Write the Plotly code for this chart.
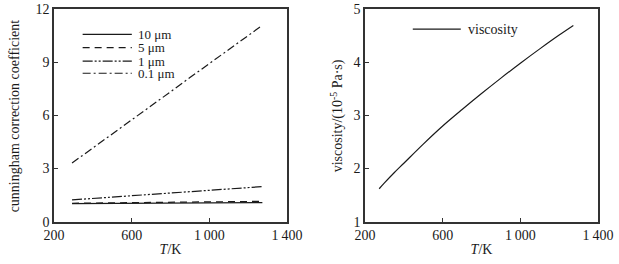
import plotly.graph_objects as go

# ---- data ----
T_cc = [293, 400, 500, 600, 700, 800, 900, 1000, 1100, 1200, 1273]
cc_10um = [1.02, 1.025, 1.03, 1.035, 1.04, 1.045, 1.05, 1.06, 1.065, 1.07, 1.08]
cc_5um = [1.04, 1.05, 1.06, 1.07, 1.08, 1.09, 1.10, 1.115, 1.13, 1.14, 1.15]
cc_1um = [1.23, 1.31, 1.39, 1.46, 1.54, 1.62, 1.69, 1.77, 1.85, 1.93, 1.98]
cc_01um = [3.31, 4.15, 4.95, 5.74, 6.53, 7.33, 8.13, 8.93, 9.73, 10.52, 11.08]

T_visc = [273, 300, 350, 400, 500, 600, 700, 800, 900, 1000, 1100, 1200, 1273]
viscosity = [1.62, 1.73, 1.92, 2.10, 2.46, 2.80, 3.11, 3.41, 3.70, 3.98, 4.25, 4.51, 4.69]

x_ticks = [200, 600, 1000, 1400]
x_ticktext = ["200", "600", "1\u2009000", "1\u2009400"]
y_ticks_left = [0, 3, 6, 9, 12]
y_ticks_right = [1, 2, 3, 4, 5]

FONT = "Liberation Serif, Times New Roman, serif"
INK = "#1a1a1a"

fig = go.Figure()

series = [
    ("10 \u03bcm", cc_10um, "solid"),
    ("5 \u03bcm", cc_5um, "7px,5px"),
    ("1 \u03bcm", cc_1um, "10px,2px,2px,2px,2px,2px"),
    ("0.1 \u03bcm", cc_01um, "8px,3px,2px,3px"),
]
for name, ys, dash in series:
    fig.add_trace(go.Scatter(x=T_cc, y=ys, mode="lines", name=name,
                             line=dict(color=INK, width=1.2, dash=dash),
                             xaxis="x", yaxis="y", showlegend=False))

fig.add_trace(go.Scatter(x=T_visc, y=viscosity, mode="lines", name="viscosity",
                         line=dict(color=INK, width=1.2, shape="spline", smoothing=1),
                         xaxis="x2", yaxis="y2", showlegend=False))

# manual legends (keys drawn in axis-domain fractions)
leg_rows = [0.881, 0.818, 0.755, 0.698]
for (name, ys, dash), yy in zip(series, leg_rows):
    fig.add_shape(type="line", xref="x domain", yref="y domain",
                  x0=0.123, x1=0.334, y0=yy, y1=yy,
                  line=dict(color=INK, width=1.2, dash=dash))
    fig.add_annotation(xref="x domain", yref="y domain", x=0.352, y=yy,
                       text=name, showarrow=False, xanchor="left", yanchor="middle",
                       font=dict(family=FONT, size=13, color=INK))
fig.add_shape(type="line", xref="x2 domain", yref="y2 domain",
              x0=0.205, x1=0.411, y0=0.905, y1=0.905,
              line=dict(color=INK, width=1.2))
fig.add_annotation(xref="x2 domain", yref="y2 domain", x=0.434, y=0.905,
                   text="viscosity", showarrow=False, xanchor="left", yanchor="middle",
                   font=dict(family=FONT, size=14, color=INK))

# y-axis titles
fig.add_annotation(xref="paper", yref="paper", x=0.0226, y=0.563,
                   text="cunningham correction coefficient", textangle=-90,
                   showarrow=False, xanchor="center", yanchor="middle",
                   font=dict(family=FONT, size=14, color=INK))
fig.add_annotation(xref="paper", yref="paper", x=0.5444, y=0.563,
                   text="viscosity/(10<sup>-5</sup> Pa\u00b7s)", textangle=-90,
                   showarrow=False, xanchor="center", yanchor="middle",
                   font=dict(family=FONT, size=14, color=INK))

axis_common = dict(showgrid=False, zeroline=False, showline=True, mirror=True,
                   linecolor="#333", linewidth=1.5, ticks="inside", ticklen=4,
                   tickcolor="#333", tickwidth=1.2, automargin=False,
                   tickfont=dict(family=FONT, size=14, color=INK))

fig.update_layout(
    width=619, height=264,
    margin=dict(l=0, r=0, t=0, b=0, autoexpand=False),
    paper_bgcolor="white", plot_bgcolor="white",
    font=dict(family=FONT, size=14, color=INK),
    showlegend=False,
    xaxis=dict(domain=[0.0872, 0.4637], range=[200, 1400], tickvals=x_ticks,
               ticktext=x_ticktext, anchor="y",
               title=dict(text="<i>T</i>/K", standoff=2,
                          font=dict(family=FONT, size=14, color=INK)),
               **axis_common),
    yaxis=dict(domain=[0.1602, 0.9659], range=[0, 12], tickvals=y_ticks_left,
               anchor="x", **axis_common),
    xaxis2=dict(domain=[0.5897, 0.9661], range=[200, 1400], tickvals=x_ticks,
                ticktext=x_ticktext, anchor="y2",
                title=dict(text="<i>T</i>/K", standoff=2,
                           font=dict(family=FONT, size=14, color=INK)),
                **axis_common),
    yaxis2=dict(domain=[0.1602, 0.9659], range=[1, 5], tickvals=y_ticks_right,
                anchor="x2", **axis_common),
)

fig.write_html("out.html", post_script="document.body.style.margin='0';",
               config={"displayModeBar": False})
